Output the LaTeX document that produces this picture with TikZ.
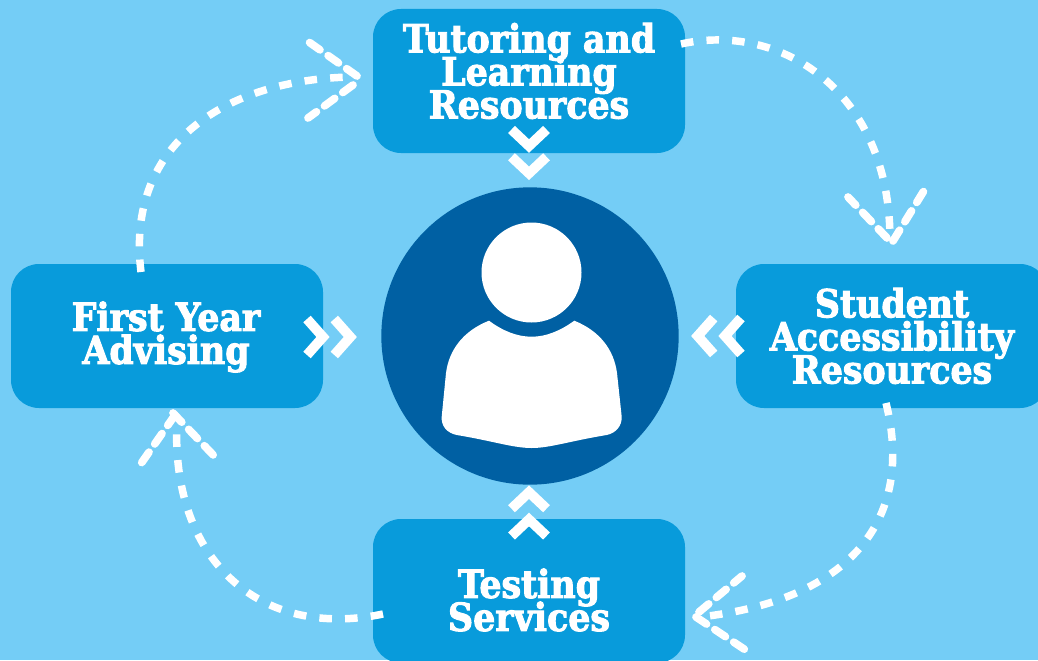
\documentclass[tikz,border=0pt]{standalone}
\usepackage{fontspec}
\setmainfont{DejaVu Serif Condensed}[BoldFont={DejaVu Serif Condensed Bold},BoldFeatures={FakeBold=2.5}]
\newcommand\myboxfont{\fontsize{29}{24.8}\selectfont\bfseries\lineskiplimit=-20pt\relax}
\begin{document}
\begin{tikzpicture}[x=0.75pt,y=-0.75pt,
  box/.style={fill=boxblue,rounded corners=21pt,inner sep=0pt,minimum width=234pt,minimum height=108pt},
  boxtext/.style={text=white,align=center,inner sep=0pt,font=\myboxfont},
  flow/.style={white,line width=5.6pt,dash pattern=on 9.4pt off 9.9pt},
  tip/.style={white,line width=5.8pt,line cap=round,dash pattern=on 9.5pt off 7.5pt},
  chev/.style={white,line width=7.4pt,miter limit=10}]
\definecolor{bgblue}{HTML}{74CDF6}
\definecolor{boxblue}{HTML}{089BDB}
\definecolor{darkblue}{HTML}{0060A3}
\path[use as bounding box,fill=bgblue] (0,0) rectangle (1038,660);
\clip (0,0) rectangle (1038,660);
\node[box] (tut) at (529,81) {};
\node[box] (fya) at (167,336) {};
\node[box] (sar) at (892,336) {};
\node[box] (tst) at (529,591) {};
\node[boxtext] (tutl) at (529,71) {Tutoring and\\Learning\\Resources};
\node[boxtext] (fyal) at (166,337) {First Year\\Advising};
\node[boxtext] (sarl) at (892,336) {Student\\Accessibility\\Resources};
\node[boxtext] (tstl) at (529,600) {Testing\\Services};
\node[circle,fill=darkblue,minimum size=223pt,inner sep=0pt] (hub) at (530,336) {};
\node[circle,fill=white,minimum size=75pt,inner sep=0pt] (head) at (531.5,272.5) {};
\fill[white] (489,320.7) .. controls (503,331) and (517,336.7) .. (531.7,336.7)
  .. controls (546,336.7) and (560,331) .. (574.3,320.7)
  .. controls (600,331) and (614,350) .. (617,373)
  -- (621.7,416.7) .. controls (622,426) and (616,433) .. (606.7,435)
  .. controls (570,441) and (550,448) .. (531.7,448)
  .. controls (513,448) and (493,441) .. (456.7,435)
  .. controls (447,433) and (441,426) .. (441.7,416.7)
  -- (446,373) .. controls (449,350) and (463,331) .. (489,320.7) -- cycle;
% dashed connectors
\coordinate (a1) at (681,44); \coordinate (a2) at (890,240);
\coordinate (b1) at (886,403); \coordinate (b2) at (700,617);
\coordinate (c1) at (383,614); \coordinate (c2) at (177,420);
\coordinate (d1) at (141,272); \coordinate (d2) at (350,77);
\draw[flow] (a1) .. controls (780,22) and (890,90) .. (a2);
\draw[flow] (b1) .. controls (915,520) and (850,600) .. (b2);
\draw[flow] (c1) .. controls (260,640) and (170,560) .. (c2);
\draw[flow] (d1) .. controls (125,140) and (230,80) .. (d2);
% arrow heads, drawn outward from the apex
\draw[tip] (887,238) -- (848,197); \draw[tip] (893,241) -- (925,189);
\draw[tip] (699,612) -- (742,576); \draw[tip] (696,617) -- (750,653);
\draw[tip] (175,415) -- (140,465); \draw[tip] (173,413) -- (218,460);
\draw[tip] (357,76) -- (306,40); \draw[tip] (353,85) -- (308,118);
% chevrons
\foreach \d in {0,27.3}{
  \draw[chev] (511.5,{129.5+\d}) -- (529,{146+\d}) -- (546.5,{129.5+\d});
  \draw[chev] (511.5,{536-\d}) -- (529,{519.5-\d}) -- (546.5,{536-\d});
  \draw[chev] ({307+\d},319) -- ({323+\d},337) -- ({307+\d},355);
  \draw[chev] ({741-\d},318) -- ({725-\d},336) -- ({741-\d},354);
}
\end{tikzpicture}
\end{document}
